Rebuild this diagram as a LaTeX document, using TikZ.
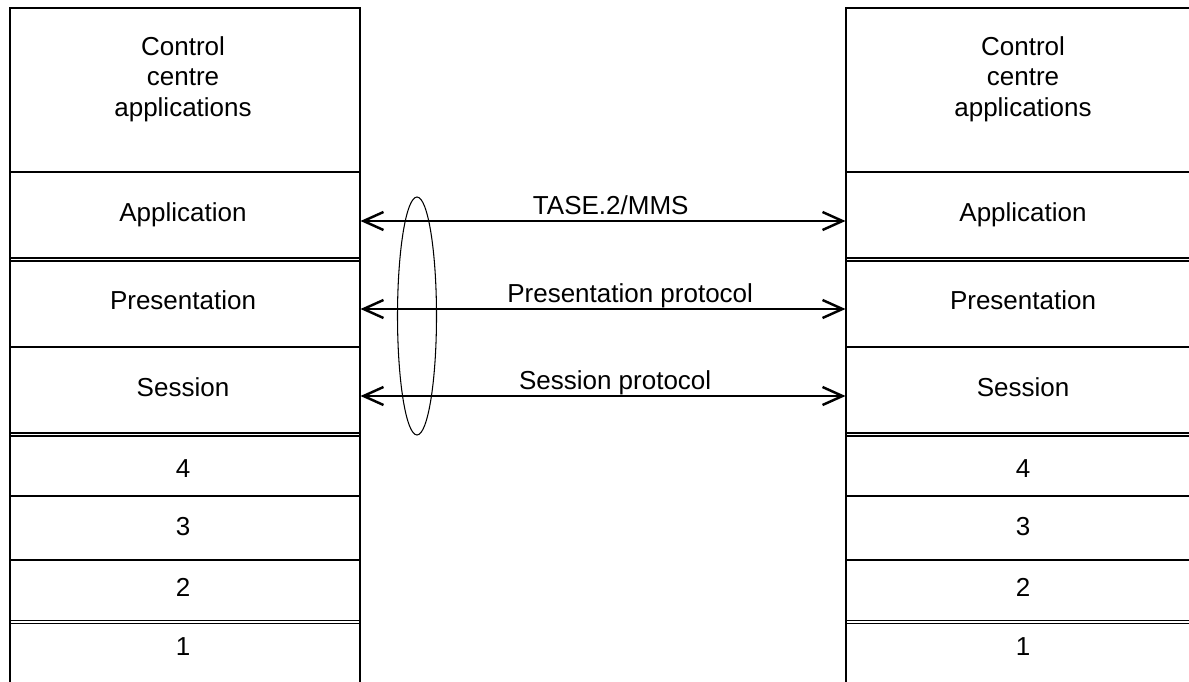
\documentclass[tikz,border=0pt]{standalone}
\usepackage{fontspec}
\setmainfont{Liberation Sans}
\usetikzlibrary{arrows.meta,shapes.geometric}

\begin{document}
\begin{tikzpicture}[x=0.02cm,y=-0.02cm,line width=0.6pt,
  font=\fontsize{14.8pt}{17.3pt}\selectfont,
  layer/.style={anchor=base,minimum width=7.08cm,inner sep=0pt},
  dsep/.style={double,double distance=1.1pt},
  proto/.style={{Straight Barb[length=0.4cm,width=0.36cm,line width=1.4pt,sharp]}-{Straight Barb[length=0.4cm,width=0.36cm,line width=1.4pt,sharp]}},
  lbl/.style={above,text depth=0.2em,inner sep=1.6pt}]
\useasboundingbox (0,0) rectangle (1189,682);

% layer separators
\foreach \y in {172,347,496,560} {
  \draw (10,\y) -- (360,\y);
  \draw (846,\y) -- (1200,\y);
}
\foreach \y in {259.5,434.5,622} {
  \draw[dsep] (10,\y) -- (360,\y);
  \draw[dsep] (846,\y) -- (1200,\y);
}

% stack frames
\draw (10,690) -- (10,8) -- (360,8) -- (360,690);
\draw (846,690) -- (846,8) -- (1200,8);

% left stack
\node[layer,align=center,anchor=center] (lcca) at (183,79) {Control\\centre\\applications};
\node[layer] (lapp) at (183,221) {Application};
\node[layer] (lpres) at (183,309) {Presentation};
\node[layer] (lsess) at (183,396) {Session};
\node[layer] (l4) at (183,477) {4};
\node[layer] (l3) at (183,535) {3};
\node[layer] (l2) at (183,596) {2};
\node[layer] (l1) at (183,655) {1};

% right stack
\node[layer,align=center,anchor=center] (rcca) at (1023,79) {Control\\centre\\applications};
\node[layer] (rapp) at (1023,221) {Application};
\node[layer] (rpres) at (1023,309) {Presentation};
\node[layer] (rsess) at (1023,396) {Session};
\node[layer] (r4) at (1023,477) {4};
\node[layer] (r3) at (1023,535) {3};
\node[layer] (r2) at (1023,596) {2};
\node[layer] (r1) at (1023,655) {1};

% peer protocols
\node[draw,ellipse,minimum width=0.78cm,minimum height=4.76cm,inner sep=0pt] (bundle) at (417,316) {};
\draw[proto] (lapp.base east) -- node[lbl,pos=0.516] {TASE.2/MMS} (rapp.base west);
\draw[proto] (lpres.base east) -- node[lbl,pos=0.556] {Presentation protocol} (rpres.base west);
\draw[proto] (lsess.base east) -- node[lbl,pos=0.525] {Session protocol} (rsess.base west);
\end{tikzpicture}
\end{document}
